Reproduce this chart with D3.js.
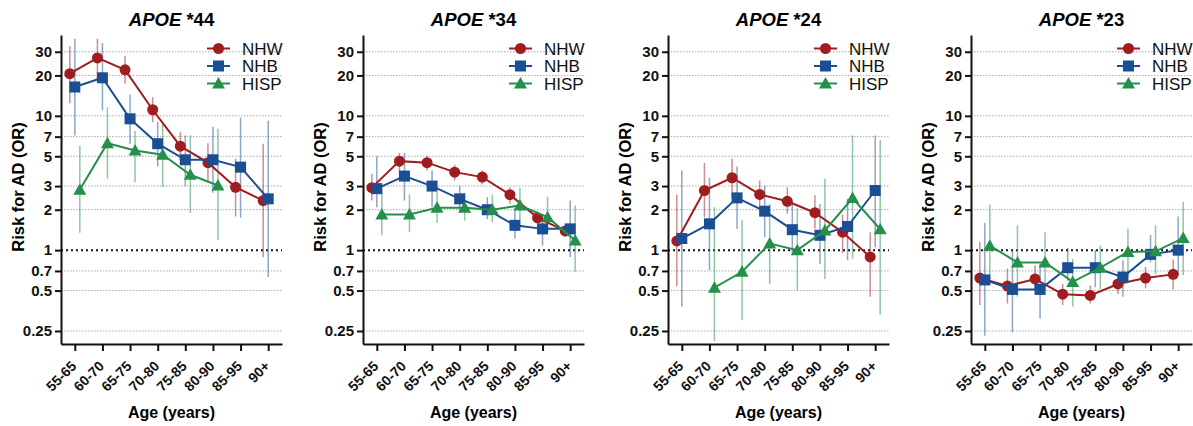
<!DOCTYPE html>
<html>
<head>
<meta charset="utf-8">
<script src="https://cdn.jsdelivr.net/npm/d3@7"></script>
<style>
  body { margin: 0; background: #fff; }
  svg { font-family: "Liberation Sans", Arial, sans-serif; }
  .axis path, .axis line { stroke: #111; stroke-width: 2; }
  .axis text { font-weight: bold; fill: #111; }
  .yaxis text { font-size: 15px; }
  .xaxis text { font-size: 14px; }
  .grid line { stroke: #aaa; stroke-width: 1; stroke-dasharray: 1.5 1.5; }
</style>
</head>
<body>
<svg id="chart" width="1193" height="426"></svg>
<script>
// categories
var ages = ["55-65", "60-70", "65-75", "70-80", "75-85", "80-90", "85-95", "90+"];
var groups = ["NHW", "NHB", "HISP"];
var titles = ["*44", "*34", "*24", "*23"];
var yTicks = [0.25, 0.5, 0.7, 1, 2, 3, 5, 7, 10, 20, 30];

// [OR, lower CI, upper CI] per age group, null = not estimated
var e44_NHW  = [[20.6, 12.4, 33], [27, 18.4, 37.5], [22, 17.4, 28], [11.1, 9.0, 13.8], [5.95, 4.66, 7.56], [4.48, 3.2, 6.26], [2.94, 1.78, 4.8], [2.34, 0.89, 6.2]];
var e44_NHB  = [[16.4, 7.15, 37.5], [19.2, 11.0, 34.8], [9.5, 6.2, 14.4], [6.2, 4.2, 9.0], [4.71, 3.0, 7.15], [4.71, 2.68, 8.3], [4.15, 1.74, 9.7], [2.41, 0.63, 9.2]];
var e44_HISP = [[2.82, 1.35, 6.0], [6.26, 3.4, 11.6], [5.53, 3.2, 7.7], [5.13, 2.94, 8.7], [3.64, 1.89, 7.15], [3.03, 1.19, 8.0], null, null];

var e34_NHW  = [[2.92, 2.34, 3.7], [4.6, 3.81, 5.3], [4.48, 3.92, 5.05], [3.81, 3.3, 4.32], [3.5, 3.08, 3.92], [2.59, 2.22, 2.94], [1.74, 1.55, 1.95], [1.39, 1.26, 1.51]];
var e34_NHB  = [[2.87, 2.09, 5.0], [3.56, 2.34, 5.3], [3.0, 2.09, 3.92], [2.41, 1.9, 3.03], [2.0, 1.7, 2.48], [1.53, 1.22, 1.98], [1.44, 1.08, 1.78], [1.44, 0.89, 2.34]];
var e34_HISP = [[1.84, 1.29, 2.78], [1.84, 1.36, 2.6], [2.07, 1.59, 2.7], [2.07, 1.66, 2.66], [2.0, 1.62, 2.59], [2.15, 1.68, 2.9], [1.76, 1.36, 2.5], [1.18, 0.69, 2.15]];

var e24_NHW  = [[1.17, 0.54, 2.59], [2.78, 1.76, 4.45], [3.46, 2.45, 4.8], [2.6, 2.03, 3.3], [2.31, 1.87, 2.94], [1.9, 1.44, 2.56], [1.36, 0.95, 1.84], [0.89, 0.45, 1.36]];
var e24_NHB  = [[1.22, 0.38, 3.92], [1.57, 0.71, 3.46], [2.45, 1.44, 4.2], [1.95, 1.25, 3.03], [1.42, 0.95, 2.28], [1.29, 0.79, 2.2], [1.5, 0.84, 2.41], [2.78, 1.05, 7.15]];
var e24_HISP = [null, [0.525, 0.21, 2.09], [0.69, 0.30, 1.68], [1.12, 0.56, 2.2], [1.0, 0.5, 2.05], [1.40, 0.61, 3.4], [2.44, 0.86, 7.15], [1.43, 0.33, 6.6]];

var e23_NHW  = [[0.62, 0.39, 1.15], [0.54, 0.40, 0.73], [0.61, 0.50, 0.77], [0.47, 0.39, 0.56], [0.46, 0.40, 0.545], [0.56, 0.47, 0.65], [0.62, 0.52, 0.75], [0.66, 0.51, 0.85]];
var e23_NHB  = [[0.60, 0.23, 1.59], [0.51, 0.245, 1.0], [0.51, 0.31, 0.79], [0.74, 0.59, 1.04], [0.74, 0.53, 1.0], [0.63, 0.45, 0.84], [0.93, 0.81, 1.3], [1.0, 0.65, 1.78]];
var e23_HISP = [[1.08, 0.55, 2.19], [0.81, 0.45, 1.53], [0.81, 0.50, 1.36], [0.58, 0.38, 0.86], [0.74, 0.51, 1.08], [0.97, 0.63, 1.44], [0.98, 0.66, 1.53], [1.23, 0.65, 2.28]];

var panelData = [
  [e44_NHW, e44_NHB, e44_HISP],
  [e34_NHW, e34_NHB, e34_HISP],
  [e24_NHW, e24_NHB, e24_HISP],
  [e23_NHW, e23_NHB, e23_HISP]
];

var colors = ["#a01c1f", "#1b4f93", "#24904a"];
var shifts = [-5, 0, 5];

var panelX = [61, 363, 668, 971];
var plotTop = 35, w = 221, h = 309;

var svg = d3.select("#chart");

var x = d3.scalePoint().domain(ages).range([0, w]).padding(0.5);
var y = d3.scaleLog().domain([0.2, 40]).range([h, 0]);

function marker(g, i, cx, cy) {
  if (i == 0) {
    g.append("circle").attr("cx", cx).attr("cy", cy).attr("r", 5.5).attr("fill", colors[i]);
  } else if (i == 1) {
    g.append("rect").attr("x", cx - 5.5).attr("y", cy - 5.5).attr("width", 11).attr("height", 11).attr("fill", colors[i]);
  } else {
    g.append("path")
      .attr("d", "M" + cx + "," + (cy - 6.5) + "L" + (cx + 6.5) + "," + (cy + 5) + "L" + (cx - 6.5) + "," + (cy + 5) + "Z")
      .attr("fill", colors[i]);
  }
}

panelData.forEach(function(series, p) {
  var g = svg.append("g").attr("transform", "translate(" + panelX[p] + "," + plotTop + ")");

  // gridlines
  g.append("g").attr("class", "grid")
    .selectAll("line").data(yTicks.filter(function(t) { return t != 1; })).enter()
    .append("line")
    .attr("x1", 0).attr("x2", w)
    .attr("y1", function(d) { return y(d); })
    .attr("y2", function(d) { return y(d); });

  g.append("line")
    .attr("x1", 0).attr("x2", w)
    .attr("y1", y(1)).attr("y2", y(1))
    .attr("stroke", "#111").attr("stroke-width", 2).attr("stroke-dasharray", "2 3");

  // error bars first
  series.forEach(function(s, i) {
    s.forEach(function(d, k) {
      if (!d) return;
      var cx = x(ages[k]) + shifts[i];
      g.append("line")
        .attr("x1", cx).attr("x2", cx)
        .attr("y1", y(d[1])).attr("y2", y(d[2]))
        .attr("stroke", colors[i]).attr("stroke-opacity", 0.5).attr("stroke-width", 1.5);
    });
  });

  // lines + markers
  series.forEach(function(s, i) {
    var line = d3.line()
      .defined(function(d) { return d; })
      .x(function(d, k) { return x(ages[k]) + shifts[i]; })
      .y(function(d) { return y(d[0]); });
    g.append("path").datum(s)
      .attr("d", line)
      .attr("fill", "none").attr("stroke", colors[i]).attr("stroke-width", 2);
    s.forEach(function(d, k) {
      if (d) marker(g, i, x(ages[k]) + shifts[i], y(d[0]));
    });
  });

  // axes
  var yAxis = d3.axisLeft(y).tickValues(yTicks).tickFormat(function(d) { return d; })
    .tickSize(6).tickSizeOuter(0).tickPadding(3);
  g.append("g").attr("class", "axis yaxis").call(yAxis);

  var xAxis = d3.axisBottom(x).tickSize(7).tickSizeOuter(0);
  var xa = g.append("g").attr("class", "axis xaxis")
    .attr("transform", "translate(0," + h + ")").call(xAxis);
  xa.selectAll("text")
    .attr("text-anchor", "end")
    .attr("x", 0).attr("y", 0).attr("dy", 0)
    .attr("transform", "translate(2,23) rotate(-45)");

  // titles
  var t = g.append("text").attr("x", w / 2).attr("y", -9)
    .attr("text-anchor", "middle").attr("font-size", 18.5).attr("font-weight", "bold");
  t.append("tspan").attr("font-style", "italic").text("APOE");
  t.append("tspan").text(" " + titles[p]);

  g.append("text")
    .attr("transform", "translate(-37," + 152 + ") rotate(-90)")
    .attr("text-anchor", "middle").attr("font-size", 16.5).attr("font-weight", "bold")
    .text("Risk for AD (OR)");

  g.append("text")
    .attr("x", w / 2).attr("y", 383)
    .attr("text-anchor", "middle").attr("font-size", 16).attr("font-weight", "bold")
    .text("Age (years)");

  // legend
  var lg = g.append("g").attr("transform", "translate(146,13.5)");
  groups.forEach(function(name, i) {
    var ly = i * 17.5;
    lg.append("line").attr("x1", 0).attr("x2", 23).attr("y1", ly).attr("y2", ly)
      .attr("stroke", colors[i]).attr("stroke-width", 2);
    marker(lg, i, 11.5, ly);
    lg.append("text").attr("x", 35).attr("y", ly).attr("dy", "0.36em")
      .attr("font-size", 17).attr("fill", "#111").text(name);
  });
});
</script>
</body>
</html>
